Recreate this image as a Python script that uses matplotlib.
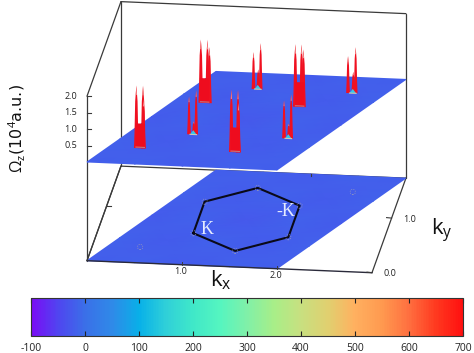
import numpy as np
import matplotlib
matplotlib.use("Agg")
import matplotlib.pyplot as plt
from matplotlib.colors import LinearSegmentedColormap, Normalize
from matplotlib.cm import ScalarMappable

plt.rcParams['font.family'] = ['Open Sans', 'DejaVu Sans']
plt.rcParams['mathtext.fontset'] = 'custom'
plt.rcParams['mathtext.rm'] = 'Open Sans'
plt.rcParams['mathtext.it'] = 'Open Sans'
plt.rcParams['axes.unicode_minus'] = False

# data
z_ticks = [0.5, 1.0, 1.5, 2.0]
kx_ticks = [1.0, 2.0]
ky_ticks = [0.0, 1.0]
cbar_ticks = [-100, 0, 100, 200, 300, 400, 500, 600, 700]

hexagon_kx = [1.0, 1.0, 1.5, 2.0, 2.0, 1.5]
hexagon_ky = [0.577, 1.155, 1.443, 1.155, 0.577, 0.289]

# back to front: kx, ky of the peak, then spikes as kx offset / height
wide_kx = [1.0, 2.0, 0.5, 1.5]
wide_ky = [1.155, 1.155, 0.289, 0.289]
wide_spike_dx = [[-0.04, 0.03, 0.05], [-0.045, 0.02, 0.04], [-0.04, 0.03, 0.035], [-0.04, 0.03, 0.035]]
wide_spike_z = [[1.92, 1.92, 1.7], [1.9, 1.9, 1.75], [1.9, 1.9, 1.5], [1.9, 1.9, 1.5]]
narrow_kx = [1.5, 2.5, 1.0, 2.0]
narrow_ky = [1.443, 1.443, 0.577, 0.577]
narrow_spike_dx = [[-0.045, 0.005, 0.03], [-0.05, 0.005, 0.03], [-0.045, 0.005, 0.03], [-0.045, 0.005, 0.03]]
narrow_spike_z = [[1.12, 0.6, 1.4], [1.12, 0.65, 1.4], [1.15, 0.4, 1.35], [1.15, 0.45, 1.35]]

# plane colour values along the plane, rows are ky
plane_vals = [[-20, -16, -22, -16, -20],
              [-16, -24, -18, -24, -16],
              [-22, -16, -28, -16, -22],
              [-16, -24, -18, -24, -16],
              [-20, -16, -22, -16, -20]]

cmap_vals = [-100, -50, 0, 50, 100, 150, 200, 250, 300, 350, 400, 450, 500, 550, 600, 650, 700]
cmap_cols = ['#7a0cf5', '#4f46f0', '#3a70e8', '#2f8ae8', '#08b0e8', '#30d0d8', '#40e8c8', '#55f5c0',
             '#80f0a8', '#a8ee88', '#c8e080', '#e0d070', '#ffb060', '#ff9a50', '#ff7040', '#ff3a20', '#ff1010']

cm = LinearSegmentedColormap.from_list('bar', [((v + 100) / 800, c) for v, c in zip(cmap_vals, cmap_cols)])
norm = Normalize(-100, 700)


# oblique view of the box, result in picture pixels
def proj(kx, ky, kz):
    kx, ky, kz = np.asarray(kx, float), np.asarray(ky, float), np.asarray(kz, float)
    return 87 + 95 * kx + 19.6 * ky, 162 + 4 * kx - 54.6 * ky - 32.9 * kz


fig = plt.figure(figsize=(4.74, 3.53), dpi=100)
ax = fig.add_axes([0, 0, 1, 1])
ax.set_xlim(0, 474)
ax.set_ylim(353, 0)
ax.axis('off')

line = '#3a3a3a'
KX, KY, ZB, ZT = 3.0, 1.732, -3.0, 2.0


def edge(a, b, color=line, lw=0.9, z=1):
    x, y = proj(*zip(a, b))
    ax.plot(x, y, color=color, lw=lw, zorder=z, solid_capstyle='round')


def plane(kz, z):
    u, v = np.meshgrid(np.linspace(0, 1, 5), np.linspace(0, 1, 5))
    x, y = proj(2 * u + v, KY * v, np.full(u.shape, kz))
    ax.pcolormesh(x, y, np.array(plane_vals), cmap=cm, norm=norm, shading='gouraud', zorder=z)


# box, back edges first
edge((0, KY, ZB), (KX, KY, ZB))
edge((0, KY, ZB), (0, KY, ZT))
edge((0, KY, ZT), (KX, KY, ZT))
edge((KX, KY, ZB), (KX, KY, ZT), z=4)
edge((0, 0, ZT), (0, KY, ZT), z=4)
edge((0, 0, ZB), (0, 0, ZT), z=1)
edge((0, 0, ZB), (0, KY, ZB), z=1)
edge((KX, 0, ZB), (KX, KY, ZB), z=1)

plane(ZB, 2)
plane(0.0, 5)
edge((0, 0, ZB), (KX, 0, ZB), color='#2a2a3a', lw=1.0, z=3)
edge((0, KY, ZB), (0, 0, ZB), z=3)

# ticks
for t in z_ticks:
    x, y = proj(0, 0, t)
    ax.plot([x, x + 4], [y, y], color=line, lw=0.8, zorder=4)
    ax.text(x - 10, y, f'{t:.1f}', ha='right', va='center', fontsize=6.5, color='#222222', zorder=6)
for t in kx_ticks:
    x, y = proj(t, 0, ZB)
    ax.plot([x, x], [y, y - 3], color=line, lw=0.7, zorder=4)
    ax.text(x - 1, y + 7, f'{t:.1f}', ha='center', va='center', fontsize=6.5, color='#222222')
for t in ky_ticks:
    x, y = proj(KX, t, ZB)
    ax.plot([x, x - 5], [y, y - 0.5], color=line, lw=0.8, zorder=4)
    ax.text(x + 18, y + 1, f'{t:.1f}', ha='center', va='center', fontsize=6.5, color='#222222')
x, y = proj(0, 1.0, ZB)
ax.plot([x, x + 4], [y, y], color=line, lw=0.8, zorder=1)
x, y = proj(2.0, KY, ZB)
ax.plot([x, x], [y, y + 2], color=line, lw=0.8, zorder=4)

# flat print of the peaks on the lower plane
for kx, ky in zip(wide_kx + narrow_kx, wide_ky + narrow_ky):
    x, y = proj(kx, ky, ZB)
    ax.scatter([x], [y], s=14, marker='o', facecolor='none', edgecolor='#9a9cb8', lw=0.6, ls=':', zorder=8)

# hexagon
x, y = proj(hexagon_kx + hexagon_kx[:1], hexagon_ky + hexagon_ky[:1], [ZB] * 7)
ax.plot(x, y, color='#0a0a18', lw=1.5, zorder=7, solid_joinstyle='round')
ax.text(207, 230, 'K', color='#e6ecff', fontsize=13, family='Liberation Serif', ha='center', va='center', zorder=8)
ax.text(286, 211, '-K', color='#e6ecff', fontsize=13, family='Liberation Serif', ha='center', va='center', zorder=8)


def spike(kx, ky, dx, h, w, z):
    f = np.array([-1, -0.75, -0.5, 0, 0.5, 0.75, 1])
    zs = np.array([0, 0.3, 0.75, 1, 0.75, 0.3, 0]) * h
    px, py = proj(kx + dx + f * w, [ky] * 7, zs)
    ax.fill(px, py, color='#f01020', lw=0, zorder=z)
    # the tip is paler
    px, py = proj([kx + dx - w * 0.25, kx + dx, kx + dx + w * 0.25], [ky] * 3, [h * 0.85, h, h * 0.85])
    ax.fill(px, py, color='#f58a8a', lw=0, zorder=z + 0.01)


for i in range(4):
    z = 10 + i
    kx, ky = narrow_kx[i], narrow_ky[i]
    for dx, h in zip(narrow_spike_dx[i], narrow_spike_z[i]):
        spike(kx, ky, dx, h, 0.02, z)
    px, py = proj([kx - 0.035, kx, kx + 0.035], [ky] * 3, [0, 0.13, 0])
    ax.fill(px, py, color='#35c8e8', lw=0, zorder=z + 0.1)
    ax.plot(px[[0, 2]], py[[0, 2]], color='#c8c8b8', lw=0.8, zorder=z + 0.1)
    kx, ky = wide_kx[i], wide_ky[i]
    for dx, h in zip(wide_spike_dx[i], wide_spike_z[i]):
        spike(kx, ky, dx, h, 0.025, z + 0.2)
    # thick foot of the peak
    px, py = proj([kx - 0.05, kx - 0.045, kx - 0.02, kx, kx + 0.02, kx + 0.045, kx + 0.05],
                  [ky] * 7, [0.75, 0.03, 0, 0, 0, 0.03, 0.75])
    ax.fill(px, py, color='#ee0c1e', lw=0, zorder=z + 0.3)
    ax.plot(px[[1, 5]], py[[1, 5]], color='#b88a90', lw=0.7, zorder=z + 0.3)

# axis labels
ax.text(17, 129, r'$\Omega_z$(10$^4$a.u.)', rotation=90, ha='center', va='center', fontsize=11.5,
        family=['DejaVu Sans'], color='#111111')
ax.text(221, 280, r'k$_{\mathrm{x}}$', ha='center', va='center', fontsize=16, color='#111111')
ax.text(442, 231, r'k$_{\mathrm{y}}$', ha='center', va='center', fontsize=16, color='#111111')

# colour bar
cax = fig.add_axes([31 / 474, 1 - 336 / 353, 432 / 474, 38 / 353])
cb = fig.colorbar(ScalarMappable(norm=norm, cmap=cm), cax=cax, orientation='horizontal', ticks=cbar_ticks)
cb.outline.set_linewidth(0.8)
cb.outline.set_edgecolor('#333333')
cax.tick_params(axis='x', direction='in', top=True, bottom=True, length=3.5, width=0.8, color='#222222',
                labelsize=7.5, labelcolor='#222222', pad=5)

fig.savefig('out.png', dpi=100)
